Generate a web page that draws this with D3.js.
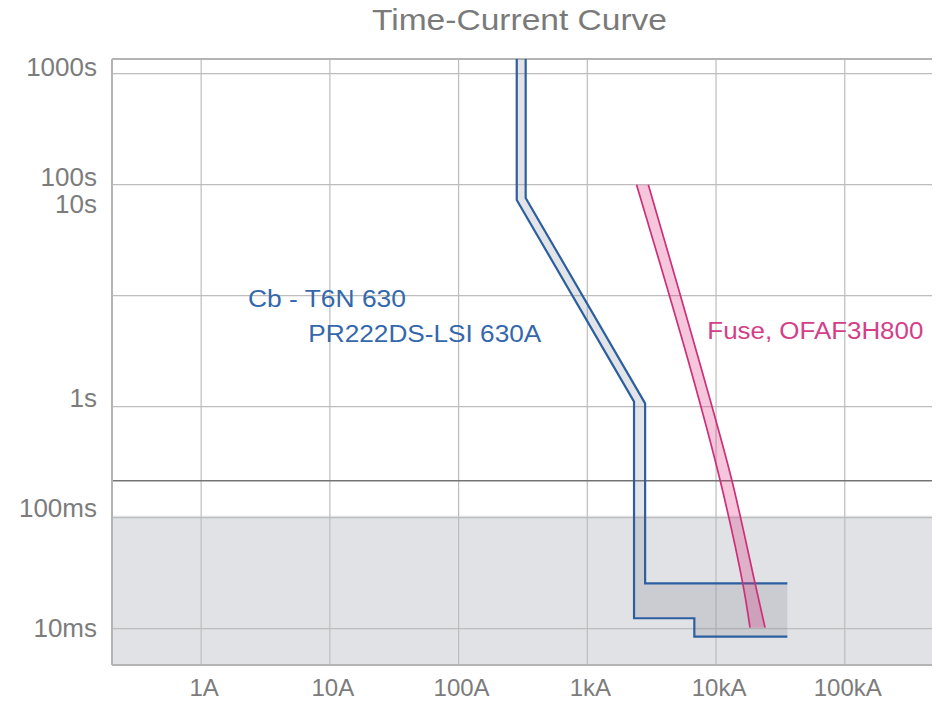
<!DOCTYPE html>
<html><head><meta charset="utf-8">
<script src="https://cdn.jsdelivr.net/npm/d3@7"></script>
<style>
body{margin:0;background:#fff}
svg{display:block}
text{font-family:"Liberation Sans",Arial,Helvetica,sans-serif}
</style>
</head><body>
<svg id="c" width="936" height="701"></svg>
<script>
// ---------- data ----------
const currentTicks = [1, 10, 100, 1000, 10000, 100000];           // A
const currentTickLabels = ["1A", "10A", "100A", "1kA", "10kA", "100kA"];
const timeTicks = [1000, 100, 10, 1, 0.1, 0.01];                   // s
const timeTickLabels = ["1000s", "100s", "10s", "1s", "100ms", "10ms"];
const timeLabelAt = [950, 97, 56, 1, 0.102, 0.0084];               // where each label sits (s)
const instantaneousLimit = 0.104;  // s, top of shaded zone
const selectivityTime = 0.215;     // s, dark reference line

// circuit breaker Cb - T6N 630 / PR222DS-LSI 630A  [current A, time s]
const cbMinCurve = [[283, 1400], [283, 72.8], [2306, 1.11], [2306, 0.0124], [6780, 0.0124], [6780, 0.00848], [35800, 0.00848]];
const cbMaxCurve = [[332, 1400], [332, 75.9], [2812, 1.07], [2812, 0.0256], [35800, 0.0256]];

// fuse OFAF3H800
const fuseTimes      = [100, 2.14, 0.218, 0.0256, 0.0102];
const fuseMinCurrent = [2412, 6370, 10740, 16120, 18360];
const fuseMaxCurrent = [2978, 7740, 13250, 20090, 24030];

const annotations = [
  {text: "Cb - T6N 630",      I: 2.31, t: 7.86, len: 158, color: "#3468ab"},
  {text: "PR222DS-LSI 630A",  I: 6.8,  t: 3.85, len: 233, color: "#3468ab"},
  {text: "Fuse, OFAF3H800",   I: 8560, t: 4.03, len: 216, color: "#d3408a"}
];
const title = "Time-Current Curve";

// ---------- layout ----------
const svg = d3.select("#c");
const L = 112, R = 932, T = 59, B = 665;
const x = d3.scaleLog().domain([0.203, 476000]).range([L, R]);
const y = d3.scaleLog().domain([0.0047, 1356]).range([B, T]);

svg.append("defs").append("clipPath").attr("id", "plot")
  .append("rect").attr("x", L).attr("y", T).attr("width", R - L).attr("height", B - T);

// shaded instantaneous zone
svg.append("rect")
  .attr("x", L).attr("y", y(instantaneousLimit))
  .attr("width", R - L).attr("height", B - y(instantaneousLimit))
  .attr("fill", "#e1e2e5");

// grid
const grid = svg.append("g").attr("stroke", "#bdbdbd").attr("stroke-width", 1.2);
grid.selectAll(".vx").data(currentTicks).join("line")
  .attr("x1", d => x(d)).attr("x2", d => x(d)).attr("y1", T).attr("y2", B);
grid.selectAll(".hy").data(timeTicks).join("line")
  .attr("x1", L).attr("x2", R).attr("y1", d => y(d)).attr("y2", d => y(d));

// selectivity line
svg.append("line").attr("x1", L).attr("x2", R)
  .attr("y1", y(selectivityTime)).attr("y2", y(selectivityTime))
  .attr("stroke", "#747474").attr("stroke-width", 1.6);

// frame
const frame = svg.append("g").attr("stroke", "#b4b4b4").attr("stroke-width", 2).attr("fill", "none");
frame.append("line").attr("x1", L).attr("x2", L).attr("y1", T).attr("y2", B);
frame.append("line").attr("x1", L).attr("x2", R).attr("y1", T).attr("y2", T);
frame.append("line").attr("x1", L).attr("x2", R).attr("y1", B).attr("y2", B);

const plot = svg.append("g").attr("clip-path", "url(#plot)");

// CB band
const lin = d3.line().x(d => x(d[0])).y(d => y(d[1]));
plot.append("path")
  .attr("d", lin(cbMinCurve.concat(cbMaxCurve.slice().reverse())) + "Z")
  .attr("fill", "rgba(110,118,135,0.2)");
[cbMinCurve, cbMaxCurve].forEach(c => {
  plot.append("path").attr("d", lin(c)).attr("fill", "none")
    .attr("stroke", "#2c5f9f").attr("stroke-width", 2.2).attr("stroke-linejoin", "miter");
});

// fuse band
const fuse = fuseTimes.map((t, i) => ({t, lo: fuseMinCurrent[i], hi: fuseMaxCurrent[i]}));
const curve = d3.curveCatmullRom;
plot.append("path")
  .attr("d", d3.area().y(d => y(d.t)).x0(d => x(d.lo)).x1(d => x(d.hi)).curve(curve)(fuse))
  .attr("fill", "rgba(222,40,120,0.26)");
["lo", "hi"].forEach(k => {
  plot.append("path")
    .attr("d", d3.line().y(d => y(d.t)).x(d => x(d[k])).curve(curve)(fuse))
    .attr("fill", "none").attr("stroke", "#cf2f78").attr("stroke-width", 1.7);
});

// axis labels
svg.append("g").selectAll("text").data(timeTickLabels).join("text")
  .attr("x", 97).attr("y", (d, i) => y(timeLabelAt[i]))
  .attr("text-anchor", "end").attr("font-size", 26).attr("fill", "#7c7c7c")
  .text(d => d);
svg.append("g").selectAll("text").data(currentTickLabels).join("text")
  .attr("x", (d, i) => x(currentTicks[i]) + 3).attr("y", 696)
  .attr("text-anchor", "middle").attr("font-size", 24).attr("fill", "#7c7c7c")
  .text(d => d);

// title
svg.append("text").attr("x", 519.5).attr("y", 29.5).attr("text-anchor", "middle")
  .attr("font-size", 29).attr("fill", "#7a7a7a")
  .attr("textLength", 295).attr("lengthAdjust", "spacingAndGlyphs")
  .text(title);

// annotations
svg.append("g").selectAll("text").data(annotations).join("text")
  .attr("x", d => x(d.I)).attr("y", d => y(d.t))
  .attr("font-size", 23).attr("fill", d => d.color)
  .attr("textLength", d => d.len).attr("lengthAdjust", "spacingAndGlyphs")
  .text(d => d.text);
</script>
</body></html>
